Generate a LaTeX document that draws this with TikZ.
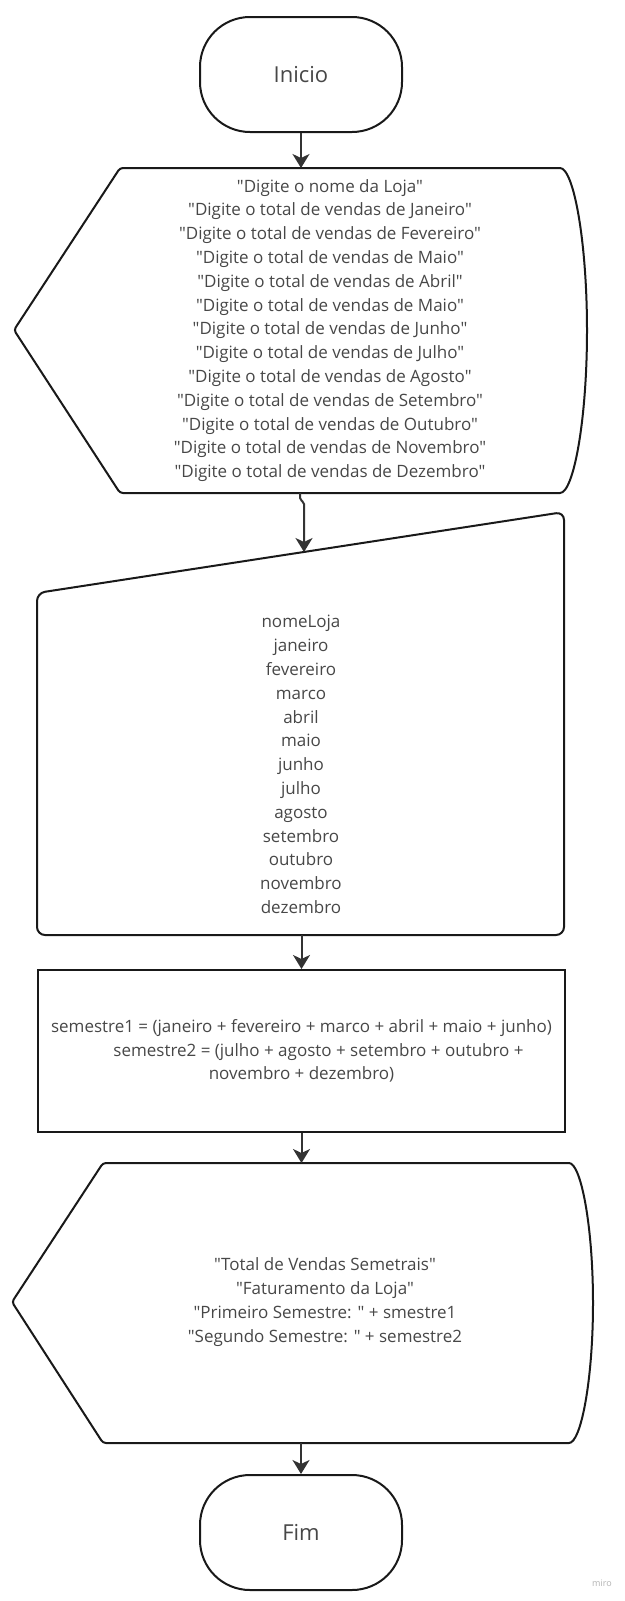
\documentclass[tikz,border=0pt]{standalone}
\usepackage{fontspec}
\setmainfont{Open Sans}[Ligatures=TeXOff]
\usetikzlibrary{arrows.meta, positioning}

\begin{document}
\begin{tikzpicture}[
    x=1pt, y=1pt,
    >={Stealth[length=14pt, width=17pt, inset=4pt]},
  ]
  \tikzset{
    line_box/.style = {line width=2pt, draw=black!90, rounded corners=3pt},
    txt/.style = {text=black!72, align=center, font=\fontsize{17}{23.8}\selectfont},
    box_term/.style = {line_box, rounded corners=50pt, minimum width=202pt, minimum height=115pt,
                       text=black!72, font=\fontsize{22}{26}\selectfont},
    flow/.style = {->, line width=2pt, draw=black!80},
  }

  \useasboundingbox (0,0) rectangle (624,-1601);

  % Inicio
  \node[box_term] (inicio) at (301,-74.5) {Inicio};

  % Display: messages
  \draw[line_box] (14,-330) -- (120,-168) -- (557,-168)
    arc[start angle=90, end angle=-90, x radius=30, y radius=162.5] -- (120,-493) -- cycle;
  \node[txt] (disp1) at (330,-330.5) {"Digite o nome da Loja"\\
    "Digite o total de vendas de Janeiro"\\
    "Digite o total de vendas de Fevereiro"\\
    "Digite o total de vendas de Maio"\\
    "Digite o total de vendas de Abril"\\
    "Digite o total de vendas de Maio"\\
    "Digite o total de vendas de Junho"\\
    "Digite o total de vendas de Julho"\\
    "Digite o total de vendas de Agosto"\\
    "Digite o total de vendas de Setembro"\\
    "Digite o total de vendas de Outubro"\\
    "Digite o total de vendas de Novembro"\\
    "Digite o total de vendas de Dezembro"};
  \coordinate (disp1_in) at (301,-168);
  \coordinate (disp1_out) at (300,-493);

  % Manual input: variables
  \draw[line_box, rounded corners=8pt] (37,-593) -- (564,-512) -- (564,-935) -- (37,-935) -- cycle;
  \node[txt] (inp) at (301,-764.5) {nomeLoja\\ janeiro\\ fevereiro\\ marco\\ abril\\ maio\\ junho\\
    julho\\ agosto\\ setembro\\ outubro\\ novembro\\ dezembro};
  \coordinate (inp_in) at (304,-552);
  \coordinate (inp_out) at (301.5,-935);

  % Process
  \node[txt, line_box, rounded corners=0pt, minimum width=527pt, minimum height=162pt]
    (proc) at (301.5,-1051) {semestre1 = (janeiro + fevereiro + marco + abril + maio + junho)\\
    \hspace*{34pt}semestre2 = (julho + agosto + setembro + outubro +\\
    novembro + dezembro)};

  % Display: results
  \draw[line_box] (12,-1302) -- (103,-1163) -- (566,-1163)
    arc[start angle=90, end angle=-90, x radius=27, y radius=140] -- (103,-1443) -- cycle;
  \node[txt] (disp2) at (325,-1302) {"Total de Vendas Semetrais"\\
    "Faturamento da Loja"\\
    "Primeiro Semestre: " + smestre1\\
    "Segundo Semestre: " + semestre2};
  \coordinate (disp2_in) at (301.5,-1163);
  \coordinate (disp2_out) at (301,-1443);

  % Fim
  \node[box_term] (fim) at (301,-1532.5) {Fim};

  % Connectors
  \draw[flow] (inicio.south) -- (disp1_in);
  \draw[flow, rounded corners=2pt] (disp1_out) -- ++(0,-7) -- ++(4,-2) -- (inp_in);
  \draw[flow] (inp_out) -- (proc.north);
  \draw[flow] (proc.south) -- (disp2_in);
  \draw[flow] (disp2_out) -- (fim.north);

  \node[text=black!30, font=\fontsize{9}{10}\selectfont] (marca) at (602,-1583) {miro};
\end{tikzpicture}
\end{document}
